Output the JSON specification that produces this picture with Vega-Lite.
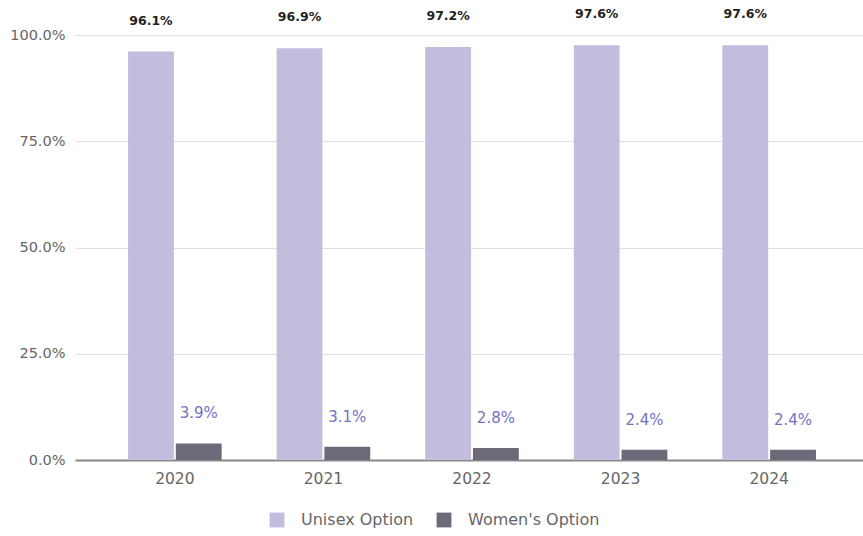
{
  "$schema": "https://vega.github.io/schema/vega-lite/v6.json",
  "autosize": {"type": "none"},
  "padding": {"left": 75, "top": 35, "right": 0, "bottom": 76},
  "width": 794,
  "height": 425,
  "background": "white",
  "config": {
    "font": "DejaVu Sans",
    "view": {"stroke": null}
  },
  "data": {
    "values": [
      {"year": "2020", "option": "Unisex Option", "value": 0.961},
      {"year": "2020", "option": "Women's Option", "value": 0.039},
      {"year": "2021", "option": "Unisex Option", "value": 0.969},
      {"year": "2021", "option": "Women's Option", "value": 0.031},
      {"year": "2022", "option": "Unisex Option", "value": 0.972},
      {"year": "2022", "option": "Women's Option", "value": 0.028},
      {"year": "2023", "option": "Unisex Option", "value": 0.976},
      {"year": "2023", "option": "Women's Option", "value": 0.024},
      {"year": "2024", "option": "Unisex Option", "value": 0.976},
      {"year": "2024", "option": "Women's Option", "value": 0.024}
    ]
  },
  "encoding": {
    "x": {
      "field": "year", "type": "nominal",
      "scale": {"paddingInner": 0.37, "paddingOuter": 0.357},
      "axis": {"title": null, "labelAngle": 0, "labelColor": "#666666", "labelFontSize": 15.5, "labelPadding": 11, "ticks": false, "domainColor": "#888888", "domainWidth": 2}
    },
    "xOffset": {"field": "option", "type": "nominal", "scale": {"paddingInner": 0.04}},
    "y": {
      "field": "value", "type": "quantitative",
      "scale": {"domain": [0, 1], "nice": false},
      "axis": {"title": null, "format": ".1%", "values": [0, 0.25, 0.5, 0.75, 1], "labelColor": "#666666", "labelFontSize": 14.5, "labelPadding": 10, "ticks": false, "domain": false, "gridColor": "#e0e0e0"}
    }
  },
  "layer": [
    {
      "mark": {"type": "bar"},
      "encoding": {
        "color": {
          "field": "option", "type": "nominal",
          "scale": {"domain": ["Unisex Option", "Women's Option"], "range": ["#c4bcdd", "#6d6979"]},
          "legend": {"title": null, "orient": "none", "legendX": 194, "legendY": 477, "direction": "horizontal", "symbolType": "square", "symbolSize": 220, "symbolStrokeWidth": 0, "labelColor": "#666666", "labelFontSize": 16, "columnPadding": 22, "labelOffset": 16}
        }
      }
    },
    {
      "transform": [{"filter": "datum.option === 'Unisex Option'"}],
      "mark": {"type": "text", "baseline": "bottom", "dy": -24, "fontSize": 12.5, "fontWeight": "bold", "color": "#222222"},
      "encoding": {"text": {"field": "value", "type": "quantitative", "format": ".1%"}}
    },
    {
      "transform": [{"filter": "datum.option === \"Women's Option\""}],
      "mark": {"type": "text", "baseline": "bottom", "dy": -22, "fontSize": 15, "color": "#7570c4"},
      "encoding": {"text": {"field": "value", "type": "quantitative", "format": ".1%"}}
    }
  ]
}
